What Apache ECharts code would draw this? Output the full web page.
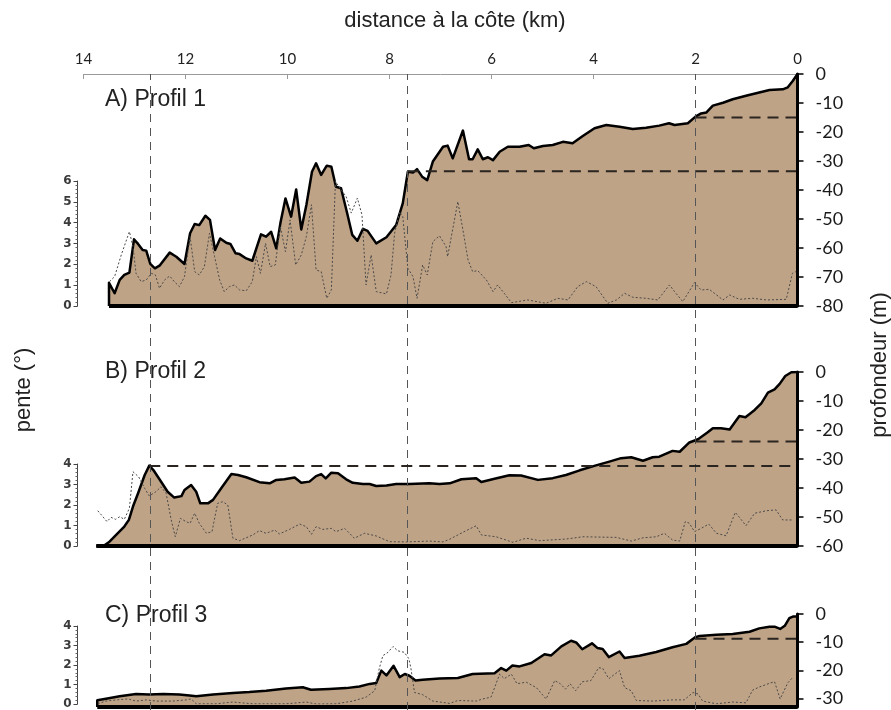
<!DOCTYPE html>
<html><head><meta charset="utf-8">
<script src="https://cdn.jsdelivr.net/npm/echarts@6/dist/echarts.min.js"></script>
<style>html,body{margin:0;padding:0;background:#fff}#c{width:891px;height:710px}</style>
</head><body><div id="c"></div><script>
// ---------- DATA ----------
const xTitle = 'distance à la côte (km)';
const yLeftTitle = 'pente (°)';
const yRightTitle = 'profondeur (m)';
const panelTitles = ['A) Profil 1', 'B) Profil 2', 'C) Profil 3'];
const distanceTicks = [14, 12, 10, 8, 6, 4, 2, 0];
const depthTicksA = [0, -10, -20, -30, -40, -50, -60, -70, -80];
const depthTicksB = [0, -10, -20, -30, -40, -50, -60];
const depthTicksC = [0, -10, -20, -30];
const depthMinA = -80, depthMinB = -60, depthMinC = -33;
const slopeMaxA = 6, slopeMaxB = 4, slopeMaxC = 4;
const verticalMarks = [12.7, 7.65, 2.0];

// Profile A : [distance km, depth m]
const depthA = [[13.5,-80],[13.5,-72],[13.39,-75.6],[13.29,-71],[13.2,-69.3],[13.1,-68.5],[13.01,-57],[12.93,-58.6],[12.84,-60.7],[12.77,-60.9],[12.69,-65.5],[12.6,-67],[12.51,-66.1],[12.31,-61.6],[12.18,-63],[12.02,-65.5],[11.91,-54.9],[11.82,-51.7],[11.73,-52.1],[11.61,-48.9],[11.52,-50.3],[11.42,-60.7],[11.32,-56.7],[11.2,-58.2],[11.12,-58.6],[11.02,-61.8],[10.94,-62.1],[10.81,-63.6],[10.69,-64.4],[10.52,-55.3],[10.42,-56.1],[10.32,-54.4],[10.22,-60.1],[10.14,-51.5],[10.04,-42.9],[9.93,-49.2],[9.83,-39.8],[9.73,-53.6],[9.63,-45.2],[9.52,-33.7],[9.44,-30.8],[9.34,-34.8],[9.23,-31.6],[9.14,-32],[9.05,-38.9],[8.95,-39.4],[8.83,-48],[8.73,-55.5],[8.63,-57.5],[8.52,-53.4],[8.43,-54.1],[8.26,-58.4],[8.06,-56.3],[7.87,-52.1],[7.74,-44.6],[7.64,-33.7],[7.54,-34],[7.46,-32.8],[7.36,-35.4],[7.26,-36.6],[7.15,-30.2],[6.95,-25.1],[6.86,-24.7],[6.76,-29.1],[6.56,-19.5],[6.44,-29.4],[6.37,-29.4],[6.27,-26],[6.17,-29.4],[6.07,-28.7],[5.97,-29.7],[5.84,-26.8],[5.68,-25.1],[5.45,-25.1],[5.27,-24.5],[5.17,-25.6],[4.99,-24.8],[4.8,-24.5],[4.6,-23.4],[4.41,-23.9],[4.21,-21.4],[3.98,-18.7],[3.75,-17.6],[3.49,-18.2],[3.23,-19],[2.97,-18.5],[2.71,-17.8],[2.52,-17],[2.41,-17.6],[2.15,-17],[2.0,-14.7],[1.89,-13.6],[1.79,-13.3],[1.66,-10.9],[1.46,-9.9],[1.27,-8.7],[1.01,-7.5],[0.75,-6.4],[0.55,-5.5],[0.29,-5.3],[0.19,-4.6],[0.09,-2.3],[0,0]];
// Profile A slope : [distance km, slope °]
const slopeA = [[13.49,1.17],[13.39,1.41],[13.26,2.45],[13.1,3.57],[13.03,2.85],[12.97,1.57],[12.87,1.17],[12.77,1.25],[12.67,1.57],[12.59,1.49],[12.51,0.85],[12.41,1.25],[12.31,1.44],[12.22,1.17],[12.12,0.93],[12.02,1.41],[11.91,3.33],[11.82,1.65],[11.73,1.49],[11.63,1.89],[11.53,3.49],[11.43,2.37],[11.33,1.25],[11.24,0.69],[11.14,0.93],[11.04,1.01],[10.94,0.77],[10.81,0.73],[10.69,1.17],[10.61,2.37],[10.53,1.57],[10.43,3.01],[10.34,1.89],[10.24,1.97],[10.14,3.81],[10.04,2.61],[9.95,4.13],[9.84,1.97],[9.73,2.45],[9.63,3.33],[9.53,4.86],[9.44,1.73],[9.34,1.65],[9.23,0.37],[9.14,0.77],[9.06,5.98],[8.95,5.58],[8.85,5.25],[8.75,4.46],[8.63,5.18],[8.54,4.38],[8.46,1.01],[8.36,2.45],[8.26,0.69],[8.06,0.58],[7.97,1.49],[7.9,3.49],[7.8,4.53],[7.74,4.29],[7.64,1.81],[7.54,1.41],[7.46,0.37],[7.35,1.97],[7.26,1.49],[7.15,3.09],[7.02,3.37],[6.89,2.85],[6.86,2.37],[6.66,5.01],[6.56,3.65],[6.46,2.21],[6.37,1.65],[6.27,1.7],[6.1,1.25],[5.97,0.69],[5.88,1.01],[5.75,0.61],[5.61,0.16],[5.29,0.29],[4.93,0.13],[4.7,0.37],[4.5,0.29],[4.31,0.93],[4.14,1.17],[3.95,0.93],[3.72,0.13],[3.55,0.29],[3.39,0.61],[3.23,0.42],[2.97,0.37],[2.74,0.29],[2.51,1.01],[2.41,0.69],[2.25,0.21],[2.02,1.12],[1.89,0.77],[1.73,0.8],[1.46,0.29],[1.33,0.53],[1.14,0.32],[0.88,0.37],[0.61,0.29],[0.22,0.32],[0.1,1.57],[0.03,1.65]];
const refFromA = [2.0, 7.64];
const refDepthA = [-15, -33.5];

// Profile B
const depthB = [[13.75,-60],[13.61,-60],[13.49,-58.5],[13.36,-56.2],[13.2,-53.3],[13.11,-51],[13.03,-46.4],[12.93,-41.8],[12.8,-35.5],[12.71,-32.3],[12.63,-33.8],[12.51,-37],[12.35,-41.3],[12.22,-43.3],[12.08,-42.8],[12.02,-40.7],[11.89,-39],[11.79,-41.3],[11.71,-45.3],[11.56,-45.3],[11.46,-44.1],[11.3,-40.1],[11.1,-35.2],[10.97,-35.5],[10.81,-36.3],[10.55,-38],[10.35,-38.4],[10.22,-37.2],[10.06,-37],[9.86,-36.4],[9.73,-38.2],[9.57,-37.8],[9.44,-35.9],[9.34,-35.2],[9.25,-36.7],[9.14,-34.7],[9.01,-34.9],[8.85,-37],[8.72,-38.2],[8.52,-38.6],[8.39,-38.6],[8.26,-39.3],[8.06,-39.1],[7.87,-38.6],[7.61,-38.6],[7.22,-38.4],[7.02,-38.6],[6.82,-38.4],[6.59,-37],[6.3,-36.6],[6.2,-37.9],[5.94,-36.8],[5.65,-35.6],[5.42,-35.7],[5.09,-37.2],[4.8,-36.6],[4.54,-35.5],[4.27,-33.9],[3.95,-32.2],[3.69,-30.9],[3.46,-29.7],[3.26,-29.4],[3.03,-30.6],[2.84,-29.4],[2.71,-29.2],[2.45,-27.2],[2.31,-27.5],[2.12,-24.3],[1.95,-23.2],[1.76,-20.8],[1.66,-19.4],[1.5,-19.4],[1.33,-19.8],[1.14,-15.2],[1.02,-15.6],[0.84,-13.1],[0.71,-10.8],[0.58,-7.1],[0.45,-6],[0.35,-4.1],[0.24,-1.4],[0.12,-0.1],[0,0]];
const slopeB = [[13.72,1.72],[13.62,1.43],[13.54,1.19],[13.46,1.4],[13.37,1.3],[13.29,1.43],[13.2,1.3],[13.1,1.84],[13.03,3.62],[12.92,3.38],[12.8,2.81],[12.71,2.44],[12.58,2.65],[12.48,2.89],[12.38,2.57],[12.28,1.27],[12.2,0.45],[12.1,1.35],[11.99,1.19],[11.91,1.11],[11.82,1.6],[11.73,1.11],[11.59,0.62],[11.48,0.7],[11.37,2.08],[11.27,2.16],[11.17,2.0],[11.07,0.38],[10.94,0.26],[10.68,0.54],[10.55,0.75],[10.42,0.62],[10.25,0.78],[10.16,0.59],[9.96,0.81],[9.76,1.07],[9.63,0.94],[9.53,0.57],[9.44,0.94],[9.31,0.81],[9.14,0.86],[9.05,0.7],[8.88,0.86],[8.69,0.38],[8.49,0.62],[8.26,0.49],[8.0,0.21],[7.67,0.2],[7.22,0.24],[6.95,0.2],[6.82,0.33],[6.56,0.67],[6.3,0.99],[6.2,0.54],[5.91,0.45],[5.58,0.18],[5.32,0.38],[5.06,0.26],[4.54,0.34],[4.21,0.45],[3.55,0.42],[3.26,0.24],[3.03,0.4],[2.77,0.45],[2.61,0.62],[2.45,0.29],[2.31,0.24],[2.2,1.19],[2.12,1.11],[2.02,0.7],[1.89,0.86],[1.74,1.07],[1.59,0.62],[1.4,0.5],[1.22,1.64],[1.14,1.4],[1.01,0.99],[0.84,1.6],[0.61,1.72],[0.42,1.76],[0.29,1.27],[0.09,1.27]];
const refFromB = [12.71, 2.0];
const refDepthB = [-32.4, -24];

// Profile C
const depthC = [[13.73,-33],[13.73,-30.6],[13.56,-30.1],[13.29,-29.2],[12.97,-28.4],[12.71,-28.6],[12.44,-28.4],[12.12,-28.6],[11.92,-28.9],[11.79,-29.2],[11.46,-28.6],[11.07,-28],[10.75,-27.7],[10.42,-27.2],[10.03,-26.4],[9.7,-26],[9.54,-26.9],[9.18,-26.6],[8.85,-26.3],[8.59,-25.7],[8.39,-24.8],[8.26,-24.5],[8.16,-20.1],[8.06,-21.8],[7.92,-18.4],[7.8,-22.4],[7.7,-21.3],[7.61,-21.9],[7.49,-23.6],[7.35,-23.3],[7.02,-22.9],[6.66,-22.7],[6.37,-21.3],[5.94,-21],[5.81,-19.2],[5.71,-20.1],[5.59,-18.3],[5.45,-18.6],[5.22,-17.4],[4.96,-14.3],[4.83,-14.7],[4.63,-11.5],[4.44,-9.5],[4.34,-10.1],[4.22,-12.5],[4.03,-10.4],[3.92,-12.1],[3.82,-12.4],[3.7,-15.3],[3.49,-13.3],[3.39,-15.6],[3.1,-14.8],[2.77,-13.5],[2.45,-11.8],[2.18,-10.6],[2.0,-8.2],[1.92,-7.8],[1.59,-7.4],[1.27,-7.1],[0.94,-6.3],[0.75,-5.1],[0.55,-4.5],[0.45,-4.5],[0.34,-5.3],[0.25,-4.2],[0.16,-1.5],[0.09,-0.9],[0,-0.9]];
const slopeC = [[13.72,0.01],[13.56,0.15],[13.36,0.21],[13.13,0.26],[12.97,0.15],[12.77,0.21],[12.57,0.15],[12.25,0.15],[11.99,0.21],[11.89,0.26],[11.79,0.01],[11.4,0.01],[11.07,0.1],[10.68,0.01],[10.03,0.01],[9.63,0.1],[9.44,0],[9.05,0.01],[8.72,0.15],[8.46,0.35],[8.29,0.68],[8.2,1.83],[8.13,2.48],[8.03,2.65],[7.93,2.95],[7.84,2.73],[7.71,2.65],[7.62,2.32],[7.58,1.83],[7.51,0.59],[7.35,0.48],[7.15,0.15],[6.82,0.03],[6.66,0.18],[6.3,0.15],[6.17,0.26],[6.01,0.35],[5.84,1.53],[5.75,1.3],[5.61,1.53],[5.5,1.04],[5.32,1.12],[5.12,0.84],[4.93,0.26],[4.76,1.2],[4.65,1.04],[4.55,0.76],[4.46,1.04],[4.35,0.68],[4.22,1.14],[4.05,1.2],[3.9,1.86],[3.82,1.83],[3.7,1.3],[3.49,1.71],[3.39,0.84],[3.26,0.68],[3.16,0.18],[2.84,0.15],[2.45,0.21],[2.22,0.21],[2.05,0.59],[1.95,0.51],[1.86,0.15],[1.59,0.01],[1.27,0.1],[1.01,0.06],[0.88,0.71],[0.75,0.87],[0.52,1.09],[0.45,1.14],[0.34,0.26],[0.19,1.09],[0.09,1.37]];
const refFromC = [2.0];
const refDepthC = [-8.8];

// ---------- LAYOUT / STYLE ----------
const L = 83.5, R = 93.5;
const FILL = '#BFA386';
const panels = [
  {depth: depthA, slope: slopeA, dMin: depthMinA, sMax: slopeMaxA, ticks: depthTicksA, refFrom: refFromA, refDepth: refDepthA, top: 74, h: 232, sTop: 181, sH: 125, titleY: 100},
  {depth: depthB, slope: slopeB, dMin: depthMinB, sMax: slopeMaxB, ticks: depthTicksB, refFrom: refFromB, refDepth: refDepthB, top: 372, h: 174, sTop: 464, sH: 82, titleY: 372},
  {depth: depthC, slope: slopeC, dMin: depthMinC, sMax: slopeMaxC, ticks: depthTicksC, refFrom: refFromC, refDepth: refDepthC, top: 614, h: 93, sTop: 626, sH: 81, titleY: 616}
];

const grid = [], xAxis = [], yAxis = [], series = [], graphic = [];
const hiddenX = (gi) => ({type: 'value', gridIndex: gi, min: 0, max: 14, inverse: true, show: false});

panels.forEach((p, i) => {
  const gD = grid.length;
  grid.push({left: L, right: R, top: p.top, height: p.h});
  const gS = grid.length;
  grid.push({left: L, right: R, top: p.sTop, height: p.sH});

  if (i === 0) {
    xAxis.push({
      type: 'value', gridIndex: gD, min: 0, max: 14, inverse: true, position: 'top', interval: 2,
      axisLine: {onZero: false, lineStyle: {color: '#9a9a9a', width: 1}},
      axisTick: {inside: true, length: 5, lineStyle: {color: '#9a9a9a'}},
      axisLabel: {color: '#222', fontSize: 15, fontFamily: 'Lato', margin: 7,
        customValues: distanceTicks},
      splitLine: {show: false}
    });
  } else {
    xAxis.push(hiddenX(gD));
  }
  xAxis.push(hiddenX(gS));

  yAxis.push({
    type: 'value', gridIndex: gD, position: 'right', min: p.dMin, max: 0, z: 8,
    axisLine: {show: true, onZero: false, lineStyle: {color: '#000', width: 3}},
    axisTick: {show: true, length: 6, lineStyle: {color: '#000', width: 1.5}, customValues: p.ticks},
    axisLabel: {color: '#1a1a1a', fontSize: 18, fontFamily: 'Lato', margin: 18, customValues: p.ticks},
    splitLine: {show: false}
  });
  yAxis.push({
    type: 'value', gridIndex: gS, position: 'left', offset: 6, min: 0, max: p.sMax, interval: 1,
    axisLine: {show: true, onZero: false, lineStyle: {color: '#444', width: 1}},
    axisTick: {show: true, length: 4, lineStyle: {color: '#444'}},
    minorTick: {show: true, splitNumber: 5, length: 2, lineStyle: {color: '#666'}},
    axisLabel: {color: '#3a3a3a', fontSize: 12, fontWeight: 'bold', fontFamily: 'DejaVu Sans', margin: 6},
    splitLine: {show: false}
  });

  // filled depth profile
  series.push({
    type: 'line', xAxisIndex: gD, yAxisIndex: gD, data: p.depth, symbol: 'none', z: 2,
    lineStyle: {color: '#000', width: 2.5, join: 'round'},
    areaStyle: {color: FILL, opacity: 1, origin: 'start'}, silent: true, animation: false
  });
  // base line of the profile
  series.push({
    type: 'line', xAxisIndex: gD, yAxisIndex: gD, symbol: 'none', z: 3,
    data: [[p.depth[0][0], p.dMin], [0, p.dMin]],
    lineStyle: {color: '#000', width: 4}, silent: true, animation: false
  });
  // slope (dotted)
  series.push({
    type: 'line', xAxisIndex: gS, yAxisIndex: gS, data: p.slope, symbol: 'none', z: 4,
    lineStyle: {color: '#4a4a4a', width: 1, type: [2, 2]}, silent: true, animation: false
  });
  // horizontal reference dashed lines
  p.refFrom.forEach((f, k) => {
    series.push({
      type: 'line', xAxisIndex: gD, yAxisIndex: gD, symbol: 'none', z: 5,
      data: [[f, p.refDepth[k]], [0, p.refDepth[k]]],
      lineStyle: {color: '#2a2520', width: 2, type: [11, 7]}, silent: true, animation: false
    });
  });

  graphic.push({type: 'text', x: 105, y: p.titleY, z: 10,
    style: {text: panelTitles[i], font: '23px "Liberation Sans"', fill: '#222', textAlign: 'left', textVerticalAlign: 'middle'}});
});

// vertical dashed marks across all panels
const gV = grid.length;
grid.push({left: L, right: R, top: 74, bottom: 0});
xAxis.push(hiddenX(gV));
yAxis.push({type: 'value', gridIndex: gV, min: 0, max: 1, show: false});
series.push({
  type: 'line', xAxisIndex: gV, yAxisIndex: gV, data: [], z: 1, silent: true, animation: false,
  markLine: {symbol: 'none', silent: true, animation: false, label: {show: false},
    lineStyle: {color: '#555', width: 1, type: [8, 6]},
    data: verticalMarks.map(v => ({xAxis: v}))}
});

graphic.push({type: 'text', x: 455, y: 21, style: {text: xTitle, font: '22px "Liberation Sans"', fill: '#222', textAlign: 'center', textVerticalAlign: 'middle'}});
graphic.push({type: 'text', x: 24, y: 390, rotation: Math.PI / 2, style: {text: yLeftTitle, font: '22px "Liberation Sans"', fill: '#222', textAlign: 'center', textVerticalAlign: 'middle'}});
graphic.push({type: 'text', x: 880, y: 365, rotation: Math.PI / 2, style: {text: yRightTitle, font: '22px "Liberation Sans"', fill: '#222', textAlign: 'center', textVerticalAlign: 'middle'}});

const chart = echarts.init(document.getElementById('c'), null, {renderer: 'canvas'});
chart.setOption({backgroundColor: '#fff', animation: false, grid, xAxis, yAxis, series, graphic});
</script></body></html>
